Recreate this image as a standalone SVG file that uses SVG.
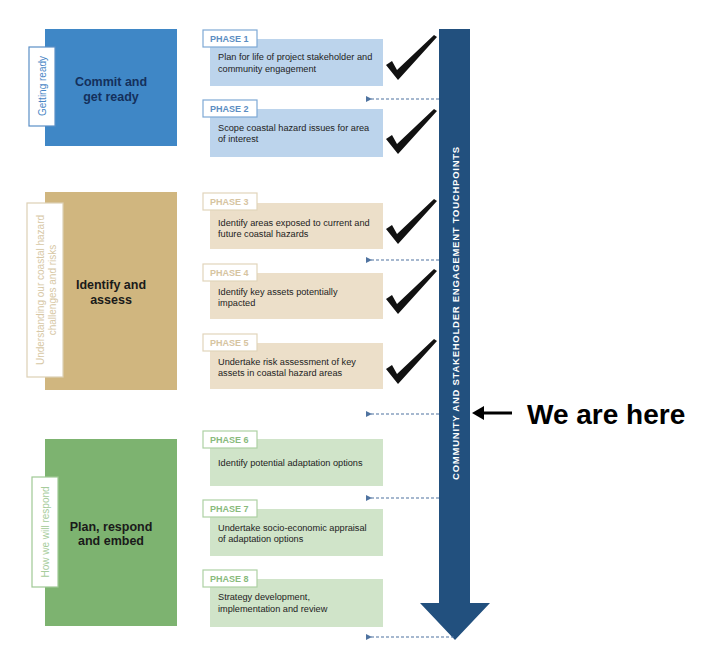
<svg xmlns="http://www.w3.org/2000/svg" width="707" height="668" viewBox="0 0 707 668">
<style>
  text { font-family: "Liberation Sans", Arial, sans-serif; }
  .main { font-size: 12.5px; font-weight: bold; text-anchor: middle; }
  .side { font-size: 10px; text-anchor: middle; dominant-baseline: central; }
  .ptab { fill: #ffffff; stroke-width: 1.2; }
  .ptxt { font-size: 9px; font-weight: bold; }
  .desc { font-size: 9.2px; fill: #222222; }
  .b .ptab { stroke: #7ea9d5; } .b .ptxt { fill: #5b8dc2; } .b .pbox { fill: #bcd4ec; }
  .t .ptab { stroke: #e2d5bb; } .t .ptxt { fill: #d6c4a1; } .t .pbox { fill: #ecdfc9; }
  .g .ptab { stroke: #add1a3; } .g .ptxt { fill: #88ba7c; } .g .pbox { fill: #d0e4c9; }
  .dash { stroke: #4f73a0; stroke-width: 1.2; stroke-dasharray: 3 2; fill: none; }
  .check { fill: #111111; }
</style>
<defs>
  <marker id="ah" viewBox="0 0 6 6" refX="1" refY="3" markerWidth="5" markerHeight="5" orient="auto-start-reverse">
    <path d="M0,3 L6,0 L6,6 Z" fill="#4f73a0"/>
  </marker>
  <path id="chk" d="M-11,-14 L-5,-18 L0,-9 L37,-44 L40,-42 L1,1 Z"/>
</defs>
<rect width="707" height="668" fill="#ffffff"/>

<!-- Stage boxes -->
<g id="stage-commit">
  <rect x="45" y="29" width="132" height="117" fill="#3f87c6"/>
  <rect x="29" y="47" width="26" height="79" fill="#ffffff" stroke="#5b8fc6" stroke-width="1.2"/>
  <text class="side" transform="translate(42,86) rotate(-90)" fill="#4a86c5">Getting ready</text>
  <text class="main" x="111" y="86" fill="#14305c">Commit and</text>
  <text class="main" x="111" y="101" fill="#14305c">get ready</text>
</g>
<g id="stage-identify">
  <rect x="45" y="192" width="132" height="198" fill="#d0b67f"/>
  <rect x="27" y="203" width="36" height="174" fill="#ffffff" stroke="#ddd0b5" stroke-width="1.2"/>
  <text class="side" transform="translate(40,290) rotate(-90)" fill="#d7c8a6">Understanding our coastal hazard</text>
  <text class="side" transform="translate(52,290) rotate(-90)" fill="#d7c8a6">challenges and risks</text>
  <text class="main" x="111" y="289" fill="#1a1a1a">Identify and</text>
  <text class="main" x="111" y="304" fill="#1a1a1a">assess</text>
</g>
<g id="stage-plan">
  <rect x="45" y="439" width="132" height="187" fill="#7db370"/>
  <rect x="32" y="477" width="26" height="110" fill="#ffffff" stroke="#9fc994" stroke-width="1.2"/>
  <text class="side" transform="translate(45,532) rotate(-90)" fill="#a6cc9b">How we will respond</text>
  <text class="main" x="111" y="531" fill="#1a1a1a">Plan, respond</text>
  <text class="main" x="111" y="545" fill="#1a1a1a">and embed</text>
</g>

<!-- Phases -->
<g id="phase1" class="b">
  <rect class="pbox" x="210" y="39" width="173" height="47"/>
  <rect class="ptab" x="203" y="30" width="54" height="17"/>
  <text class="ptxt" x="210" y="42">PHASE 1</text>
  <text class="desc" x="218" y="60">Plan for life of project stakeholder and</text>
  <text class="desc" x="218" y="72">community engagement</text>
</g>
<g id="phase2" class="b">
  <rect class="pbox" x="210" y="109" width="173" height="48"/>
  <rect class="ptab" x="203" y="100" width="54" height="17"/>
  <text class="ptxt" x="210" y="112">PHASE 2</text>
  <text class="desc" x="218" y="131">Scope coastal hazard issues for area</text>
  <text class="desc" x="218" y="142">of interest</text>
</g>
<g id="phase3" class="t">
  <rect class="pbox" x="210" y="203" width="173" height="46"/>
  <rect class="ptab" x="203" y="193" width="54" height="17"/>
  <text class="ptxt" x="210" y="205">PHASE 3</text>
  <text class="desc" x="218" y="226">Identify areas exposed to current and</text>
  <text class="desc" x="218" y="237">future coastal hazards</text>
</g>
<g id="phase4" class="t">
  <rect class="pbox" x="210" y="273" width="173" height="46"/>
  <rect class="ptab" x="203" y="264" width="54" height="17"/>
  <text class="ptxt" x="210" y="276">PHASE 4</text>
  <text class="desc" x="218" y="295">Identify key assets potentially</text>
  <text class="desc" x="218" y="306">impacted</text>
</g>
<g id="phase5" class="t">
  <rect class="pbox" x="210" y="343" width="173" height="46"/>
  <rect class="ptab" x="203" y="334" width="54" height="17"/>
  <text class="ptxt" x="210" y="346">PHASE 5</text>
  <text class="desc" x="218" y="365">Undertake risk assessment of key</text>
  <text class="desc" x="218" y="376">assets in coastal hazard areas</text>
</g>
<g id="phase6" class="g">
  <rect class="pbox" x="210" y="439" width="173" height="47"/>
  <rect class="ptab" x="203" y="431" width="54" height="17"/>
  <text class="ptxt" x="210" y="443">PHASE 6</text>
  <text class="desc" x="218" y="466">Identify potential adaptation options</text>
</g>
<g id="phase7" class="g">
  <rect class="pbox" x="210" y="509" width="173" height="47"/>
  <rect class="ptab" x="203" y="500" width="54" height="17"/>
  <text class="ptxt" x="210" y="512">PHASE 7</text>
  <text class="desc" x="218" y="531">Undertake socio-economic appraisal</text>
  <text class="desc" x="218" y="542">of adaptation options</text>
</g>
<g id="phase8" class="g">
  <rect class="pbox" x="210" y="579" width="173" height="48"/>
  <rect class="ptab" x="203" y="570" width="54" height="17"/>
  <text class="ptxt" x="210" y="582">PHASE 8</text>
  <text class="desc" x="218" y="600">Strategy development,</text>
  <text class="desc" x="218" y="612">implementation and review</text>
</g>

<!-- Check marks -->
<g id="checks" class="check">
  <use href="#chk" x="397" y="79"/>
  <use href="#chk" x="397" y="153"/>
  <use href="#chk" x="397" y="243"/>
  <use href="#chk" x="397" y="313"/>
  <use href="#chk" x="397" y="383"/>
</g>

<!-- Touchpoints column -->
<g id="touchpoints">
  <path d="M439,29 L470,29 L470,603 L490,603 L455,640 L420,603 L439,603 Z" fill="#22507e"/>
  <text transform="translate(455,313) rotate(-90)" text-anchor="middle" dominant-baseline="central" font-size="9.5" font-weight="bold" letter-spacing="0.75" fill="#ffffff">COMMUNITY AND STAKEHOLDER ENGAGEMENT TOUCHPOINTS</text>
</g>

<!-- Connectors -->
<g id="connectors">
  <line class="dash" x1="439" y1="99" x2="371" y2="99" marker-end="url(#ah)"/>
  <line class="dash" x1="439" y1="260" x2="371" y2="260" marker-end="url(#ah)"/>
  <line class="dash" x1="439" y1="414" x2="371" y2="414" marker-end="url(#ah)"/>
  <line class="dash" x1="439" y1="498" x2="371" y2="498" marker-end="url(#ah)"/>
  <line class="dash" x1="454" y1="637" x2="371" y2="637" marker-end="url(#ah)"/>
</g>

<!-- We are here -->
<g id="we-are-here">
  <line x1="512" y1="413" x2="482" y2="413" stroke="#000000" stroke-width="3"/>
  <path d="M472,413 L484,406 L484,420 Z" fill="#000000"/>
  <text x="527" y="424" font-size="28" font-weight="bold" fill="#000000">We are here</text>
</g>
</svg>
